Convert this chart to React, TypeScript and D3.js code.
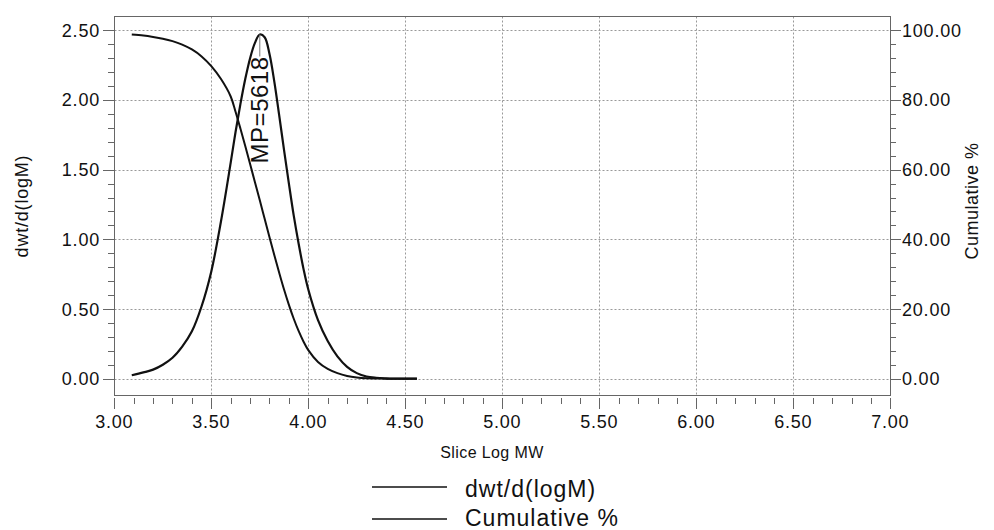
import React from "react";
import * as d3 from "d3";

const logM = [3.09, 3.15, 3.2, 3.25, 3.3, 3.35, 3.4, 3.45, 3.5, 3.55, 3.6, 3.625, 3.65, 3.675, 3.7, 3.725, 3.75, 3.775, 3.8, 3.825, 3.85, 3.875, 3.9, 3.925, 3.95, 3.975, 4.0, 4.05, 4.1, 4.15, 4.2, 4.25, 4.3, 4.35, 4.4, 4.45, 4.5, 4.56];
const dwt = [0.025, 0.045, 0.065, 0.1, 0.15, 0.23, 0.34, 0.52, 0.77, 1.13, 1.55, 1.77, 1.97, 2.15, 2.3, 2.41, 2.47, 2.45, 2.33, 2.13, 1.89, 1.64, 1.4, 1.17, 0.97, 0.79, 0.64, 0.42, 0.27, 0.16, 0.085, 0.04, 0.016, 0.007, 0.003, 0.001, 0.0, 0.0];
const cumulative = [98.8, 98.5, 98.1, 97.6, 96.9, 95.9, 94.5, 92.5, 89.7, 86.0, 81.0, 76.6, 71.8, 66.8, 61.6, 56.4, 51.2, 45.9, 40.6, 35.4, 30.4, 25.6, 21.2, 17.2, 13.7, 10.7, 8.2, 4.8, 2.8, 1.6, 0.8, 0.35, 0.12, 0.05, 0.02, 0.01, 0.0, 0.0];

const xTicks = [3, 3.5, 4, 4.5, 5, 5.5, 6, 6.5, 7];
const leftTicks = [0, 0.5, 1, 1.5, 2, 2.5];
const rightTicks = [0, 20, 40, 60, 80, 100];
const peakLabel = "MP=5618";
const peakLogM = 3.75;
const peakValue = 2.47;
const seriesNames = ["dwt/d(logM)", "Cumulative %"];

const W = 994;
const H = 530;
const FONT = "'Liberation Sans', Arial, Helvetica, sans-serif";

export default function App() {
  const x = d3.scaleLinear().domain([3, 7]).range([114.3, 890.3]);
  const y = d3.scaleLinear().domain([0, 2.5]).range([378.7, 30.3]);
  const y2 = d3.scaleLinear().domain([0, 100]).range([378.7, 30.3]);
  const frame = { left: 114.5, right: 890.5, top: 16.5, bottom: 395.5 };

  const dwtLine = d3
    .line<number>()
    .x((_, i) => x(logM[i]))
    .y((d) => y(d))
    .curve(d3.curveCatmullRom.alpha(0.5))(dwt) as string;
  const cumLine = d3
    .line<number>()
    .x((_, i) => x(logM[i]))
    .y((d) => y2(d))
    .curve(d3.curveCatmullRom.alpha(0.5))(cumulative) as string;

  const xMinor = d3.range(3, 7.0001, 0.1);
  const leftMinor = d3.range(0, 2.5001, 0.1);
  const rightMinor = d3.range(0, 100.001, 4);

  const px = x(peakLogM);
  const py = y(peakValue);

  return (
    <svg
      width={W}
      height={H}
      style={{ position: "absolute", left: 0, top: 0, background: "#fff" }}
      fontFamily={FONT}
    >
      <rect x={0} y={0} width={W} height={H} fill="#fff" />
      {/* grid */}
      {leftTicks.map((t) => (
        <line
          key={"gh" + t}
          x1={frame.left}
          x2={frame.right}
          y1={Math.round(y(t)) + 0.5}
          y2={Math.round(y(t)) + 0.5}
          stroke="#999"
          strokeDasharray="2,2"
          strokeWidth={1}
        />
      ))}
      {xTicks.slice(1, -1).map((t) => (
        <line
          key={"gv" + t}
          x1={Math.round(x(t)) + 0.5}
          x2={Math.round(x(t)) + 0.5}
          y1={frame.top}
          y2={frame.bottom}
          stroke="#999"
          strokeDasharray="2,2"
          strokeWidth={1}
        />
      ))}
      {/* frame */}
      <rect
        x={frame.left}
        y={frame.top}
        width={frame.right - frame.left}
        height={frame.bottom - frame.top}
        fill="none"
        stroke="#666"
        strokeWidth={1}
      />
      {/* left axis ticks */}
      {leftMinor.map((t, i) => (
        <line
          key={"lm" + i}
          x1={i % 5 === 0 ? 103 : 108}
          x2={frame.left}
          y1={Math.round(y(t)) + 0.5}
          y2={Math.round(y(t)) + 0.5}
          stroke="#666"
        />
      ))}
      {leftTicks.map((t) => (
        <text
          key={"lt" + t}
          x={100}
          y={y(t) + 6.5}
          textAnchor="end"
          fontSize={18}
          letterSpacing={0.8}
          fill="#111"
        >
          {t.toFixed(2)}
        </text>
      ))}
      {/* right axis ticks */}
      {rightMinor.map((t, i) => (
        <line
          key={"rm" + i}
          x1={frame.right}
          x2={i % 5 === 0 ? 901 : 896}
          y1={Math.round(y2(t)) + 0.5}
          y2={Math.round(y2(t)) + 0.5}
          stroke="#666"
        />
      ))}
      {rightTicks.map((t) => (
        <text
          key={"rt" + t}
          x={902}
          y={y2(t) + 6.5}
          textAnchor="start"
          fontSize={18}
          letterSpacing={0.8}
          fill="#111"
        >
          {t.toFixed(2)}
        </text>
      ))}
      {/* x axis ticks */}
      {xMinor.map((t, i) => (
        <line
          key={"xm" + i}
          x1={Math.round(x(t)) + 0.5}
          x2={Math.round(x(t)) + 0.5}
          y1={398}
          y2={i % 5 === 0 ? 409 : 404}
          stroke="#666"
        />
      ))}
      {xTicks.map((t) => (
        <text
          key={"xt" + t}
          x={x(t)}
          y={428}
          textAnchor="middle"
          fontSize={18}
          letterSpacing={0.8}
          fill="#111"
        >
          {t.toFixed(2)}
        </text>
      ))}
      {/* axis titles */}
      <text x={492} y={458} textAnchor="middle" fontSize={16} letterSpacing={0.4} fill="#111">
        Slice Log MW
      </text>
      <text
        transform={`translate(28,206) rotate(-90)`}
        textAnchor="middle"
        fontSize={18}
        letterSpacing={0.8}
        fill="#111"
      >
        dwt/d(logM)
      </text>
      <text
        transform={`translate(978,201) rotate(-90)`}
        textAnchor="middle"
        fontSize={18}
        letterSpacing={0.5}
        fill="#111"
      >
        Cumulative %
      </text>
      {/* curves */}
      <path d={cumLine} fill="none" stroke="#111" strokeWidth={2} />
      <path d={dwtLine} fill="none" stroke="#111" strokeWidth={2.2} />
      {/* peak label */}
      <line x1={px} x2={px} y1={py} y2={py + 22} stroke="#777" strokeWidth={1} />
      <text
        transform={`translate(${px + 8.5},${py + 22}) rotate(-90)`}
        textAnchor="end"
        fontSize={24}
        letterSpacing={0.5}
        fill="#111"
      >
        {peakLabel}
      </text>
      {/* legend */}
      {seriesNames.map((name, i) => (
        <g key={name}>
          <line x1={372} x2={447} y1={487 + i * 32} y2={487 + i * 32} stroke="#111" strokeWidth={1.5} />
          <text x={465} y={497 + i * 29} fontSize={23} letterSpacing={1} fill="#111">
            {name}
          </text>
        </g>
      ))}
    </svg>
  );
}
